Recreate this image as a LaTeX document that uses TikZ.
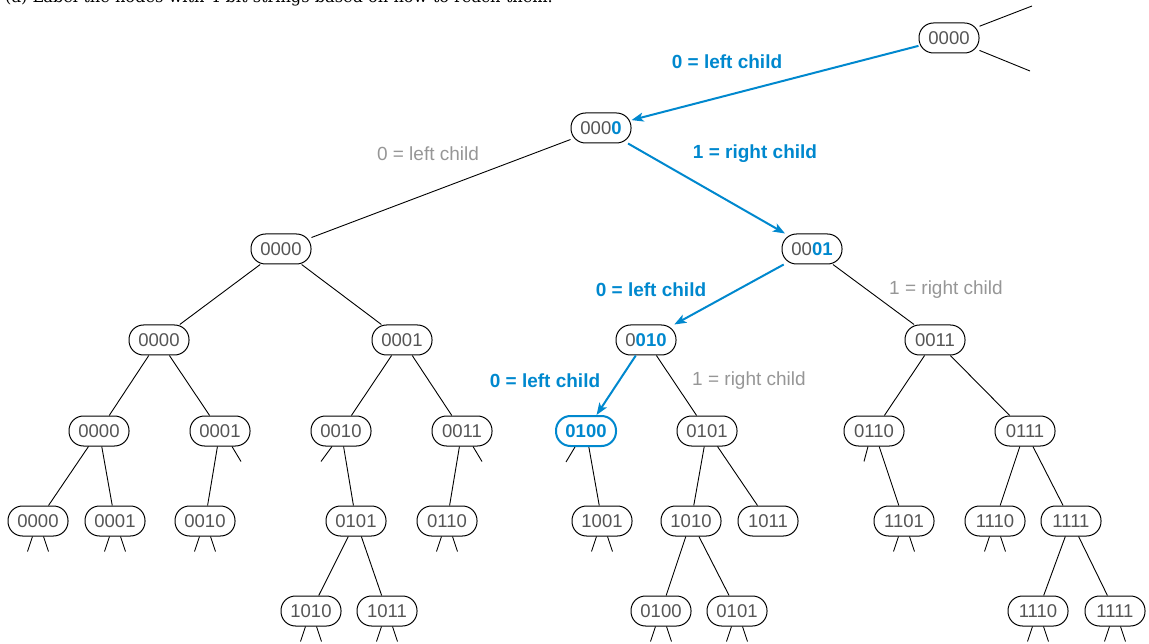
\documentclass[tikz,border=0pt]{standalone}
\usepackage{fontspec}
\setmainfont{Liberation Sans}
\newfontfamily\capfont{DejaVu Serif}
\usetikzlibrary{arrows.meta,calc}
\definecolor{myblue}{RGB}{0,136,206}
\definecolor{ntext}{RGB}{85,85,85}
\definecolor{lgray}{RGB}{150,150,150}
\newcommand\twostubs[1]{\draw[ed] ($(#1.south)+(-5.5,0)$) -- ++(-5,15) ($(#1.south)+(5.5,0)$) -- ++(5,15);}
\newcommand\bb[1]{\textbf{\color{myblue}#1}}
\begin{document}
\begin{tikzpicture}[x=1pt,y=-1pt,
  bn/.style={draw, line width=1pt, rounded corners=14.5pt, minimum width=60pt, minimum height=30pt, inner sep=0pt, text=ntext, font=\fontsize{18.5}{20}\selectfont},
  hl/.style={bn, draw=myblue, line width=2pt, text=myblue, font=\fontsize{18.5}{20}\selectfont\bfseries},
  ed/.style={line width=0.9pt},
  barrow/.style={draw=myblue, line width=2pt, -{Stealth[length=12pt,width=9pt,inset=3pt]}},
  bl/.style={text=myblue, font=\fontsize{19}{22}\selectfont\bfseries},
  gl/.style={text=lgray, font=\fontsize{19}{22}\selectfont}
]
\useasboundingbox (0,0) rectangle (1149,644);
% caption (cut off at top)
\node[anchor=base west, inner sep=0pt, font=\capfont\fontsize{16.2}{18}\selectfont] (cap) at (5,2.5) {(a) Label the nodes with 4-bit strings based on how to reach them.};
% level 0
\node[bn] (t0) at (949,38) {0000};
\coordinate (t0u) at (1032,6);
\coordinate (t0d) at (1030,71);
% level 1
\node[bn] (a1) at (601,128) {000\bb{0}};
% level 2
\node[bn] (b1) at (281,249) {0000};
\node[bn] (b2) at (812,249) {00\bb{01}};
% level 3
\node[bn] (c1) at (159,340) {0000};
\node[bn] (c2) at (402,340) {0001};
\node[bn] (c3) at (646,340) {0\bb{010}};
\node[bn] (c4) at (935,340) {0011};
% level 4
\node[bn] (d1) at (99,431) {0000};
\node[bn] (d2) at (220,431) {0001};
\node[bn] (d3) at (341,431) {0010};
\node[bn] (d4) at (462,431) {0011};
\node[hl] (d5) at (586,431) {0100};
\node[bn] (d6) at (707,431) {0101};
\node[bn] (d7) at (874,431) {0110};
\node[bn] (d8) at (1025,431) {0111};
% level 5
\node[bn] (e1) at (38,521) {0000};
\node[bn] (e2) at (115,521) {0001};
\node[bn] (e3) at (205,521) {0010};
\node[bn] (e4) at (356,521) {0101};
\node[bn] (e5) at (447,521) {0110};
\node[bn] (e6) at (602,521) {1001};
\node[bn] (e7) at (691,521) {1010};
\node[bn] (e8) at (768,521) {1011};
\node[bn] (e9) at (904,521) {1101};
\node[bn] (e10) at (995,521) {1110};
\node[bn] (e11) at (1071,521) {1111};
% level 6
\node[bn] (f1) at (311,611) {1010};
\node[bn] (f2) at (387,611) {1011};
\node[bn] (f3) at (661,611) {0100};
\node[bn] (f4) at (737,611) {0101};
\node[bn] (f5) at (1038,611) {1110};
\node[bn] (f6) at (1115,611) {1111};
% edges
\draw[ed] (t0) -- (t0u);
\draw[ed] (t0) -- (t0d);
\draw[ed] (a1) -- (b1);
\draw[ed] (b1) -- (c1);
\draw[ed] (b1) -- (c2);
\draw[ed] (b2) -- (c4);
\draw[ed] (c1) -- (d1);
\draw[ed] (c1) -- (d2);
\draw[ed] (c2) -- (d3);
\draw[ed] (c2) -- (d4);
\draw[ed] (c3) -- (d6);
\draw[ed] (c4) -- (d7);
\draw[ed] (c4) -- (d8);
\draw[ed] (d1) -- (e1);
\draw[ed] (d1) -- (e2);
\draw[ed] (d2) -- (e3);
\draw[ed] (d3) -- (e4);
\draw[ed] (d4) -- (e5);
\draw[ed] (d5) -- (e6);
\draw[ed] (d6) -- (e7);
\draw[ed] (d6) -- (e8);
\draw[ed] (d7) -- (e9);
\draw[ed] (d8) -- (e10);
\draw[ed] (d8) -- (e11);
\draw[ed] (e4) -- (f1);
\draw[ed] (e4) -- (f2);
\draw[ed] (e7) -- (f3);
\draw[ed] (e7) -- (f4);
\draw[ed] (e11) -- (f5);
\draw[ed] (e11) -- (f6);
% single stubs
\draw[ed] ($(d2.south)+(12,0)$) -- ++(9,15);
\draw[ed] ($(d3.south)+(-9,0)$) -- ++(-11,15);
\draw[ed] ($(d4.south)+(11,0)$) -- ++(9,15);
\draw[ed] ($(d5.south)+(-11,0)$) -- ++(-9,15);
\draw[ed] ($(d7.south)+(-6,0)$) -- ++(-4,15);
% double stubs
\twostubs{e1}\twostubs{e2}\twostubs{e3}\twostubs{e5}\twostubs{e6}\twostubs{e9}\twostubs{e10}
\twostubs{f1}\twostubs{f2}\twostubs{f3}\twostubs{f4}\twostubs{f5}\twostubs{f6}
% blue path
\draw[barrow] (t0) -- (a1);
\draw[barrow] (a1) -- (b2);
\draw[barrow] (b2) -- (c3);
\draw[barrow] (c3) -- (d5);
% labels
\node[bl] (l1) at (727,61.5) {0 = left child};
\node[bl] (l2) at (755,153.5) {1 = right child};
\node[gl] (l3) at (428,153.5) {0 = left child};
\node[bl] (l4) at (651,289.5) {0 = left child};
\node[gl] (l5) at (946,289.5) {1 = right child};
\node[bl] (l6) at (545,380.5) {0 = left child};
\node[gl] (l7) at (749,380.5) {1 = right child};
\end{tikzpicture}
\end{document}
